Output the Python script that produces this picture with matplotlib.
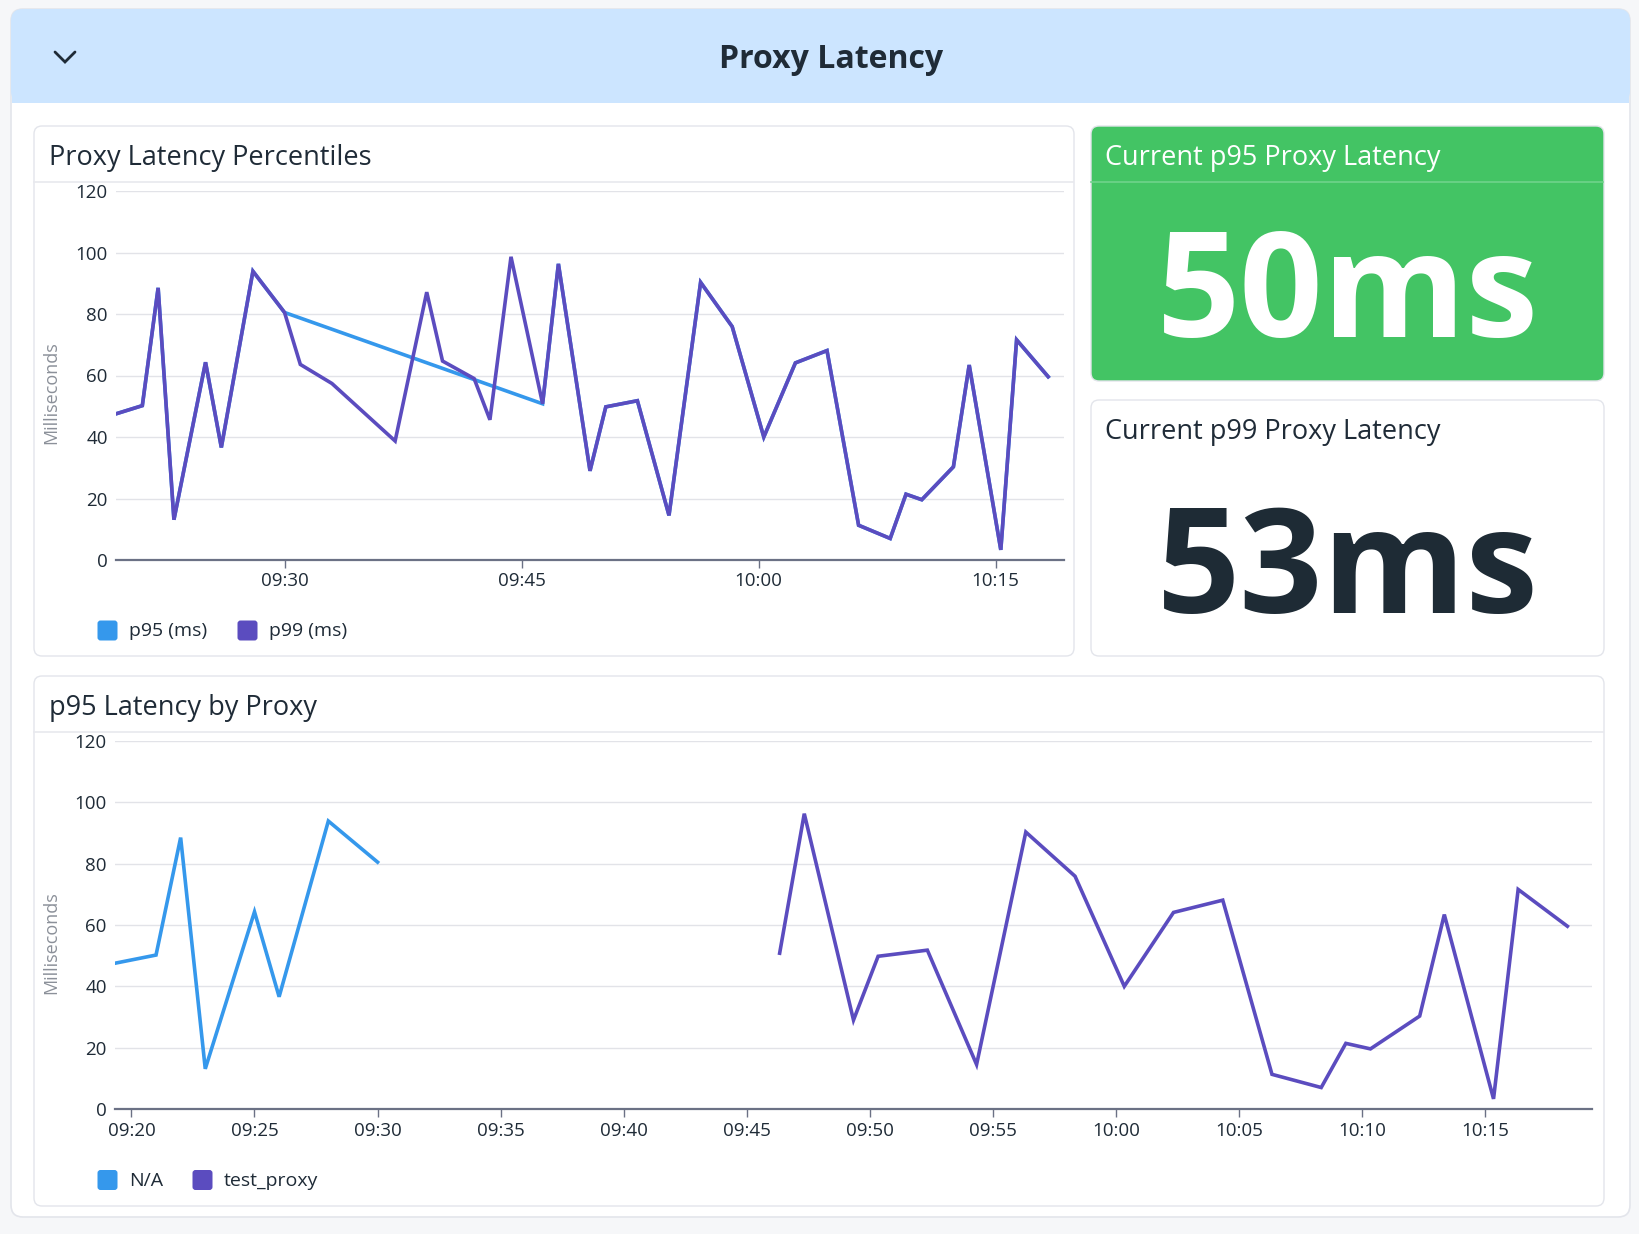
import matplotlib
matplotlib.use("Agg")
import matplotlib.pyplot as plt
import matplotlib.dates as mdates
from matplotlib.patches import FancyBboxPatch, Rectangle
from matplotlib.lines import Line2D
import pandas as pd

plt.rcParams['font.family'] = ['Open Sans', 'DejaVu Sans']

# ---------------- data ----------------
DAY = "2024-01-01 "
window_start = "09:19:20"
window_end = "10:19:20"

# p95 latency by proxy
na_times = ["09:19:00", "09:21:00", "09:22:00", "09:23:00", "09:25:00", "09:26:00",
            "09:28:00", "09:30:00"]
na_values = [47.0, 50.2, 88.5, 13.1, 64.3, 36.6, 93.9, 80.5]

test_proxy_times = ["09:46:20", "09:47:20", "09:49:20", "09:50:20", "09:52:20", "09:54:20",
                    "09:56:20", "09:58:20", "10:00:20", "10:02:20", "10:04:20", "10:06:20",
                    "10:08:20", "10:09:20", "10:10:20", "10:12:20", "10:13:20", "10:15:20",
                    "10:16:20", "10:18:20"]
test_proxy_values = [50.8, 96.3, 29.0, 49.8, 51.8, 14.5, 90.3, 75.9, 40.0, 64.1, 68.1, 11.3,
                     7.0, 21.4, 19.6, 30.3, 63.4, 3.3, 71.6, 59.6]

# p99 percentile
p99_times = ["09:19:00", "09:21:00", "09:22:00", "09:23:00", "09:25:00", "09:26:00",
             "09:28:00", "09:30:00", "09:31:00", "09:33:00", "09:37:00", "09:39:00",
             "09:40:00", "09:42:00", "09:43:00", "09:44:20", "09:46:20", "09:47:20",
             "09:49:20", "09:50:20", "09:52:20", "09:54:20", "09:56:20", "09:58:20",
             "10:00:20", "10:02:20", "10:04:20", "10:06:20", "10:08:20", "10:09:20",
             "10:10:20", "10:12:20", "10:13:20", "10:15:20", "10:16:20", "10:18:20"]
p99_values = [47.0, 50.2, 88.5, 13.1, 64.3, 36.6, 93.9, 80.5, 63.6, 57.4, 38.7, 87.1,
              64.7, 59.0, 45.6, 98.6, 50.8, 96.3, 29.0, 49.8, 51.8, 14.5, 90.3, 75.9,
              40.0, 64.1, 68.1, 11.3, 7.0, 21.4, 19.6, 30.3, 63.4, 3.3, 71.6, 59.6]

# p95 percentile = all proxies combined
p95_times = na_times + test_proxy_times
p95_values = na_values + test_proxy_values

percentile_labels = ["p95 (ms)", "p99 (ms)"]
proxy_labels = ["N/A", "test_proxy"]
y_ticks = [0, 20, 40, 60, 80, 100, 120]

current_p95 = "50ms"
current_p99 = "53ms"

dashboard_title = "Proxy Latency"
panel_titles = ["Proxy Latency Percentiles", "Current p95 Proxy Latency",
                "Current p99 Proxy Latency", "p95 Latency by Proxy"]
y_label = "Milliseconds"


def ts(lst):
    return pd.to_datetime([DAY + t for t in lst])


# ---------------- style ----------------
BLUE = "#3598ec"
PURPLE = "#5b4cbf"
GREEN = "#43c464"
DARK = "#1f2b37"
PAGE = "#f6f7f9"
BORDER = "#e3e5eb"
GRID = "#e2e3e8"
AXIS = "#6b7185"
LW = 2.6

W, H = 1640, 1234
fig = plt.figure(figsize=(W / 100, H / 100), dpi=100, facecolor=PAGE)
bg = fig.add_axes([0, 0, 1, 1])
bg.set_xlim(0, W)
bg.set_ylim(H, 0)
bg.axis('off')
bg.set_zorder(0)


def rbox(x0, y0, x1, y1, fc, ec, r=8, lw=1.0, z=1):
    p = FancyBboxPatch((x0, y0), x1 - x0, y1 - y0,
                       boxstyle=f"round,pad=0,rounding_size={r}",
                       fc=fc, ec=ec, lw=lw, zorder=z)
    bg.add_patch(p)


# outer container
rbox(11, 9, 1630, 1217, "white", BORDER, r=12, lw=1.2, z=1)
# header band
rbox(11, 9, 1630, 103, "#cce5ff", "none", r=12, lw=0, z=2)
bg.add_patch(Rectangle((11.6, 60), 1617.8, 43, fc="#cce5ff", ec="none", zorder=2))
bg.text(831.5, 68, dashboard_title, fontsize=23, fontweight='bold', color=DARK,
        ha='center', va='baseline', zorder=5)
bg.add_line(Line2D([55, 65, 75], [52, 62, 52], color=DARK, lw=2.0,
                   solid_capstyle='round', solid_joinstyle='miter', zorder=5))

# panels
rbox(34, 126, 1074, 656, "white", BORDER, r=8, z=3)
rbox(1091, 126, 1604, 381, GREEN, "#e3e5eb", r=8, z=3)
rbox(1091, 400, 1604, 656, "white", BORDER, r=8, z=3)
rbox(34, 676, 1604, 1206, "white", BORDER, r=8, z=3)

# separators
bg.add_line(Line2D([34.5, 1073.5], [182, 182], color="#e8e9ee", lw=1.2, zorder=4))
bg.add_line(Line2D([1091.5, 1603.5], [182, 182], color="#6fd38b", lw=1.2, zorder=4))
bg.add_line(Line2D([34.5, 1603.5], [731.5, 731.5], color="#e8e9ee", lw=1.2, zorder=4))

# panel titles
TFS = 19.5
bg.text(49.5, 164.5, panel_titles[0], fontsize=TFS, color=DARK, va='baseline', zorder=5)
bg.text(1105.5, 164.5, panel_titles[1], fontsize=TFS, color="white", va='baseline', zorder=5)
bg.text(1105.5, 438.5, panel_titles[2], fontsize=TFS, color=DARK, va='baseline', zorder=5)
bg.text(49.5, 714.5, panel_titles[3], fontsize=TFS, color=DARK, va='baseline', zorder=5)

# big values
bg.text(1347.5, 337.5, current_p95, fontsize=105, fontweight='bold', color="white",
        ha='center', va='baseline', zorder=5)
bg.text(1347.5, 612.5, current_p99, fontsize=105, fontweight='bold', color="#1e2b35",
        ha='center', va='baseline', zorder=5)


# legends
def legend_item(x, y_top, color, label, baseline):
    rbox(x, y_top, x + 20, y_top + 20, color, "none", r=3, lw=0, z=5)
    bg.text(x + 31.5, baseline, label, fontsize=14, color=DARK, va='baseline', zorder=5)


legend_item(97.5, 620.5, BLUE, percentile_labels[0], 636.5)
legend_item(237.5, 620.5, PURPLE, percentile_labels[1], 636.5)
legend_item(97.5, 1170, BLUE, proxy_labels[0], 1186.5)
legend_item(192.5, 1170, PURPLE, proxy_labels[1], 1186.5)

# y-axis labels
bg.text(51.5, 393, y_label, rotation=90, fontsize=13, color="#8b9099",
        ha='center', va='center', zorder=5)
bg.text(51.5, 943, y_label, rotation=90, fontsize=13, color="#8b9099",
        ha='center', va='center', zorder=5)


def make_axes(x0, y0, x1, y1):
    ax = fig.add_axes([x0 / W, 1 - y1 / H, (x1 - x0) / W, (y1 - y0) / H])
    ax.set_zorder(10)
    ax.patch.set_alpha(0)
    for s in ['top', 'right', 'left']:
        ax.spines[s].set_visible(False)
    ax.spines['bottom'].set_color(AXIS)
    ax.spines['bottom'].set_linewidth(1.6)
    ax.spines['bottom'].set_zorder(6)
    ax.set_ylim(0, 120)
    ax.set_yticks(y_ticks)
    ax.grid(axis='y', color=GRID, lw=1.0, zorder=0)
    ax.set_axisbelow(True)
    ax.tick_params(axis='y', length=0, pad=6, labelsize=13.5, labelcolor=DARK)
    ax.tick_params(axis='x', length=6, width=1.0, color=AXIS, pad=3,
                   labelsize=13.5, labelcolor=DARK)
    ax.set_xlim(pd.Timestamp(DAY + window_start), pd.Timestamp(DAY + window_end))
    ax.xaxis.set_major_formatter(mdates.DateFormatter('%H:%M'))
    return ax


# top chart: percentiles
ax1 = make_axes(116, 191, 1064, 560)
ax1.xaxis.set_major_locator(mdates.MinuteLocator(byminute=range(0, 60, 15)))
ax1.plot(ts(p95_times), p95_values, color=BLUE, lw=LW, zorder=3, solid_joinstyle='miter')
ax1.plot(ts(p99_times), p99_values, color=PURPLE, lw=LW, zorder=4, solid_joinstyle='miter')

# bottom chart: by proxy
ax2 = make_axes(115, 741, 1592, 1109)
ax2.xaxis.set_major_locator(mdates.MinuteLocator(byminute=range(0, 60, 5)))
ax2.plot(ts(na_times), na_values, color=BLUE, lw=LW, zorder=3, solid_joinstyle='miter')
ax2.plot(ts(test_proxy_times), test_proxy_values, color=PURPLE, lw=LW, zorder=4,
         solid_joinstyle='miter')

fig.savefig("out.png", dpi=100, facecolor=PAGE)
